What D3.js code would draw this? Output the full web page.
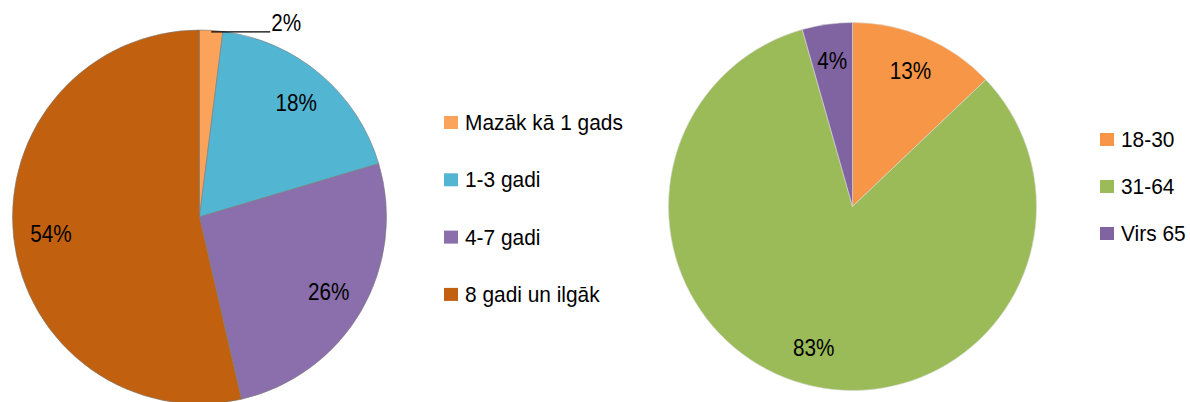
<!DOCTYPE html>
<html>
<head>
<meta charset="utf-8">
<script src="https://cdn.jsdelivr.net/npm/d3@7"></script>
<style>
  body { margin: 0; background: #fff; }
  svg { display: block; font-family: "Liberation Sans", Arial, sans-serif; }
</style>
</head>
<body>
<div id="chart"></div>
<script>
// left pie: years
var yearCats = ['Mazāk kā 1 gads', '1-3 gadi', '4-7 gadi', '8 gadi un ilgāk'];
var yearVals = [2.0, 18.4, 26.0, 53.6];
var yearColors = ['#FBA35A', '#52B6D3', '#8A6FAC', '#C1600E'];

// right pie: age groups
var ageCats = ['18-30', '31-64', 'Virs 65'];
var ageVals = [12.9, 82.7, 4.4];
var ageColors = ['#F79646', '#9BBB59', '#8064A2'];

var width = 1190, height = 402;

var svg = d3.select('#chart')
  .append('svg')
  .attr('width', width)
  .attr('height', height);

var pct = d3.format('.0%');

function drawPie (opts) {
  var total = d3.sum(opts.values);
  var data = opts.values.map(function(v, i) {
    return { name: opts.cats[i], value: v, color: opts.colors[i] };
  });

  var pie = d3.pie().sort(null).value(function(d) { return d.value; });
  var arc = d3.arc().innerRadius(0).outerRadius(opts.r);
  var labelArc = d3.arc().innerRadius(opts.r * 0.8).outerRadius(opts.r * 0.8);

  var g = svg.append('g')
    .attr('transform', 'translate(' + opts.cx + ',' + opts.cy + ')');

  var arcs = pie(data);

  g.selectAll('path.slice')
    .data(arcs)
    .enter().append('path')
    .attr('class', 'slice')
    .attr('d', arc)
    .attr('fill', function(d) { return d.data.color; })
    .attr('stroke', opts.stroke)
    .attr('stroke-width', 0.6);

  arcs.forEach(function(d) {
    var share = d.data.value / total;
    var txt = pct(share);
    if (share < 0.03) {
      // small slice: label outside with leader line
      var mid = (d.startAngle + d.endAngle) / 2;
      var x0 = Math.sin(mid) * opts.r,
          y0 = -Math.cos(mid) * opts.r + 1.5;
      g.append('line')
        .attr('x1', x0).attr('y1', y0)
        .attr('x2', x0 + 59).attr('y2', y0)
        .attr('stroke', '#000')
        .attr('stroke-width', 1.2);
      g.append('text')
        .attr('transform', 'translate(' + (x0 + 60) + ',' + (y0 - 9) + ') scale(0.9,1)')
        .attr('dominant-baseline', 'central')
        .attr('font-size', 23)
        .attr('fill', '#000')
        .text(txt);
    } else {
      var c = labelArc.centroid(d);
      g.append('text')
        .attr('transform', 'translate(' + c[0] + ',' + c[1] + ') scale(0.9,1)')
        .attr('text-anchor', 'middle')
        .attr('dominant-baseline', 'central')
        .attr('font-size', 23)
        .attr('fill', '#000')
        .text(txt);
    }
  });

  // legend
  var leg = svg.append('g')
    .attr('transform', 'translate(' + opts.lx + ',' + opts.ly + ')');
  var items = leg.selectAll('g.item')
    .data(data)
    .enter().append('g')
    .attr('class', 'item')
    .attr('transform', function(d, i) { return 'translate(0,' + i * opts.lstep + ')'; });
  items.append('rect')
    .attr('x', 0).attr('y', -6)
    .attr('width', 14).attr('height', 13)
    .attr('fill', function(d) { return d.color; });
  items.append('text')
    .attr('transform', 'translate(21,1) scale(0.95,1)')
    .attr('dominant-baseline', 'central')
    .attr('font-size', 22)
    .attr('fill', '#000')
    .text(function(d) { return d.name; });
}

drawPie({
  cats: yearCats, values: yearVals, colors: yearColors,
  cx: 199.5, cy: 217, r: 187, stroke: '#7a7a7a',
  lx: 444, ly: 122, lstep: 57.3
});

drawPie({
  cats: ageCats, values: ageVals, colors: ageColors,
  cx: 852.5, cy: 206.5, r: 184, stroke: '#d8d8d8',
  lx: 1100, ly: 139, lstep: 47
});
</script>
</body>
</html>
